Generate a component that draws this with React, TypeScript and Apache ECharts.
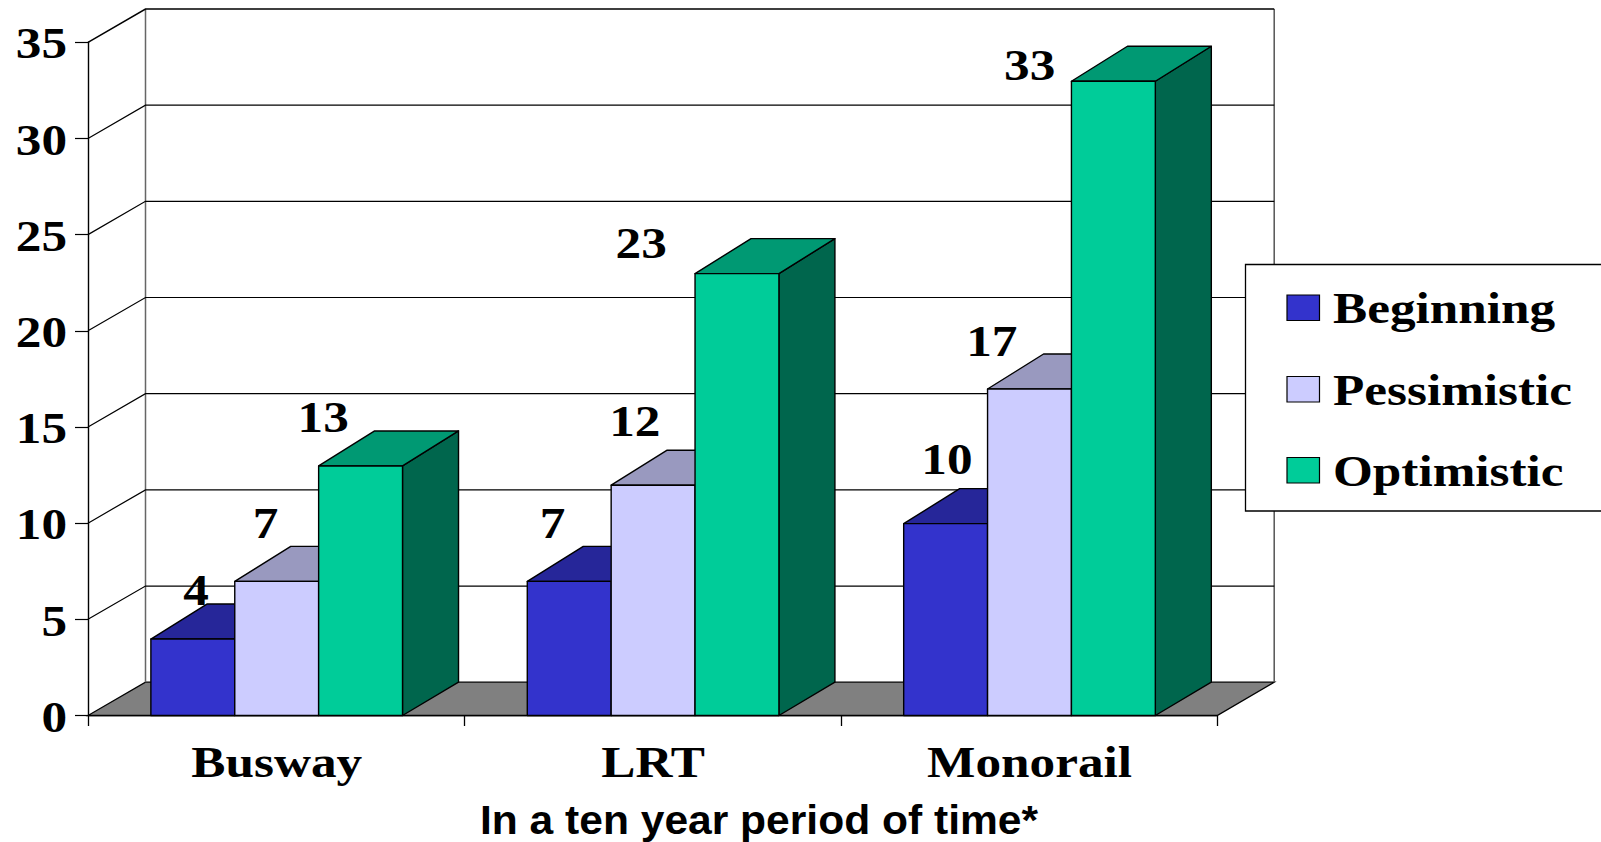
import React, { useEffect, useRef } from "react";
import * as echarts from "echarts";

const categories = ["Busway", "LRT", "Monorail"];
const beginning = [4, 7, 10];
const pessimistic = [7, 12, 17];
const optimistic = [13, 23, 33];
const yTicks = [0, 5, 10, 15, 20, 25, 30, 35];
const seriesNames = ["Beginning", "Pessimistic", "Optimistic"];
const axisTitle = "In a ten year period of time*";

// Hand-placed data labels: offset from each bar's front-top-left corner
const labelOffsets = [
  [[45, -49], [30.5, -58], [4.4, -49]],
  [[25, -58], [23.5, -64], [-54, -30]],
  [[43, -64], [4, -47.6], [-42, -15.7]],
];

const palette = [
  { front: "#3333CC", top: "#262699", side: "#1A1A66" },
  { front: "#CCCCFF", top: "#9999BF", side: "#666680" },
  { front: "#00CC99", top: "#009973", side: "#00664D" },
];

const DX = 57.5;
const DY = -33.3;
const BAR_DX = 56;
const BAR_TOP_DY = -35;
const BAR_TOP_NUDGE = 0.5;
const STRETCH = 1.165;
const SERIF = 'bold 44px "Liberation Serif"';
const LINE = "#000000";
const GROUP_RATIO = 251.5 / 376.2;

function stretched(text: string, x: number, y: number, align: string, extra: any = {}) {
  return {
    type: "text",
    x,
    y,
    scaleX: STRETCH,
    z2: 50,
    style: { text, font: SERIF, fill: "#000", align, verticalAlign: "middle", ...extra },
  };
}

function renderWall(params: any, api: any) {
  const cs = params.coordSys;
  const v = api.value(1);
  const y = api.coord([0, v])[1];
  const left = cs.x;
  const right = cs.x + cs.width;
  const backRight = right + DX - 0.5;
  const children: any[] = [];
  const shape = (points: number[][]) => ({ points });
  if (v === 0) {
    children.push({
      type: "polygon",
      shape: shape([[left, y], [right, y], [backRight, y + DY], [left + DX, y + DY]]),
      style: { fill: "#808080", stroke: LINE, lineWidth: 1.3 },
    });
    const top = api.coord([0, yTicks[yTicks.length - 1]])[1] + DY;
    children.push({
      type: "polyline",
      shape: shape([[left + DX, y + DY], [left + DX, top]]),
      style: { fill: "none", stroke: "#666666", lineWidth: 1.5 },
    });
    children.push({
      type: "polyline",
      shape: shape([[backRight, y + DY], [backRight, top]]),
      style: { fill: "none", stroke: "#555555", lineWidth: 1.5 },
    });
  } else {
    children.push({
      type: "polyline",
      shape: shape([[left, y], [left + DX, y + DY], [backRight, y + DY]]),
      style: { fill: "none", stroke: LINE, lineWidth: v === 35 ? 1.5 : 1.2 },
    });
  }
  children.push(stretched(String(v), left - 21, y + 1, "right"));
  return { type: "group", children };
}

function renderBars(idx: number) {
  return (params: any, api: any) => {
    const c = api.value(0);
    const v = api.value(1);
    const base = api.coord([c, 0]);
    const top = api.coord([c, v]);
    const w = (api.size([1, 0])[0] * GROUP_RATIO) / 3;
    const x0 = base[0] + 0.5 + (idx - 1.5) * w;
    const x1 = x0 + w;
    const yT = top[1] + BAR_TOP_NUDGE;
    const yB = base[1];
    const p = palette[idx];
    const stroke = { stroke: LINE, lineWidth: 1.4, lineJoin: "round" };
    return {
      type: "group",
      children: [
        {
          type: "polygon",
          shape: { points: [[x1, yT], [x1 + BAR_DX, yT + BAR_TOP_DY], [x1 + BAR_DX, yB + DY], [x1, yB]] },
          style: { fill: p.side, ...stroke },
        },
        {
          type: "polygon",
          shape: { points: [[x0, yT], [x1, yT], [x1 + BAR_DX, yT + BAR_TOP_DY], [x0 + BAR_DX, yT + BAR_TOP_DY]] },
          style: { fill: p.top, ...stroke },
        },
        {
          type: "rect",
          shape: { x: x0, y: yT, width: w, height: yB - yT },
          style: { fill: p.front, ...stroke },
        },
      ],
    };
  };
}

function renderValueLabel(params: any, api: any) {
  const c = api.value(0);
  const v = api.value(1);
  const s = api.value(2);
  const base = api.coord([c, v]);
  const w = (api.size([1, 0])[0] * GROUP_RATIO) / 3;
  const x0 = base[0] + 0.7 + (s - 1.5) * w;
  const off = labelOffsets[c][s];
  return stretched(String(v), x0 + off[0], base[1] + off[1], "center");
}

function renderCategoryLabel(params: any, api: any) {
  const c = api.value(0);
  const base = api.coord([c, 0]);
  return stretched(categories[c], base[0] + 0.5, base[1] + 46.5, "center");
}

export default function App() {
  const ref = useRef<HTMLDivElement>(null);
  useEffect(() => {
    document.body.style.margin = "0";
    document.documentElement.style.overflow = "hidden";
    const chart = echarts.init(ref.current!, null, { renderer: "svg" });
    const values = [beginning, pessimistic, optimistic];

    const legendChildren: any[] = [
      {
        type: "rect",
        shape: { x: 1245.5, y: 264.5, width: 400, height: 246.5 },
        style: { fill: "#fff", stroke: LINE, lineWidth: 1.3 },
        z: 100,
      },
    ];
    const legendY = [295, 376.5, 457.5];
    seriesNames.forEach((name, i) => {
      legendChildren.push({
        type: "rect",
        shape: { x: 1287, y: legendY[i], width: 32.5, height: 25.5 },
        style: { fill: palette[i].front, stroke: LINE, lineWidth: 1.2 },
        z: 101,
      });
      legendChildren.push({ ...stretched(name, 1333, legendY[i] + 13, "left"), z: 101 });
    });

    chart.setOption({
      animation: false,
      backgroundColor: "#ffffff",
      grid: { left: 88, top: 42.3, width: 1129.2, height: 673.2, containLabel: false },
      xAxis: {
        type: "category",
        data: categories,
        boundaryGap: true,
        axisLine: { show: true, lineStyle: { color: LINE, width: 1.4 } },
        axisTick: { show: true, length: 10.5, lineStyle: { color: LINE, width: 1.3 } },
        axisLabel: { show: false },
        splitLine: { show: false },
      },
      yAxis: {
        type: "value",
        min: 0,
        max: 35,
        interval: 5,
        axisLine: { show: true, lineStyle: { color: LINE, width: 1.4 } },
        axisTick: { show: true, length: 13, lineStyle: { color: LINE, width: 1.2 } },
        axisLabel: { show: false },
        splitLine: { show: false },
      },
      series: [
        {
          type: "custom",
          name: "wall",
          clip: false,
          renderItem: renderWall,
          data: yTicks.map((v) => [0, v]),
          z: 1,
        },
        ...seriesNames.map((name, i) => ({
          type: "custom",
          name,
          clip: false,
          renderItem: renderBars(i),
          data: values[i].map((v, c) => [c, v]),
          z: 2 + i,
        })),
        {
          type: "custom",
          name: "labels",
          clip: false,
          renderItem: renderValueLabel,
          data: values.flatMap((vals, s) => vals.map((v, c) => [c, v, s])),
          z: 8,
        },
        {
          type: "custom",
          name: "categoryLabels",
          clip: false,
          renderItem: renderCategoryLabel,
          data: categories.map((_, c) => [c, 0]),
          z: 8,
        },
      ],
      graphic: [
        { type: "group", children: legendChildren, z: 100 },
        {
          type: "text",
          x: 759,
          y: 820,
          scaleX: 1.026,
          z: 100,
          style: { text: axisTitle, font: 'bold 41.5px "Liberation Sans"', fill: "#000", align: "center", verticalAlign: "middle" },
        },
      ],
    });
    return () => chart.dispose();
  }, []);
  return <div ref={ref} style={{ width: 1601, height: 842 }} />;
}
